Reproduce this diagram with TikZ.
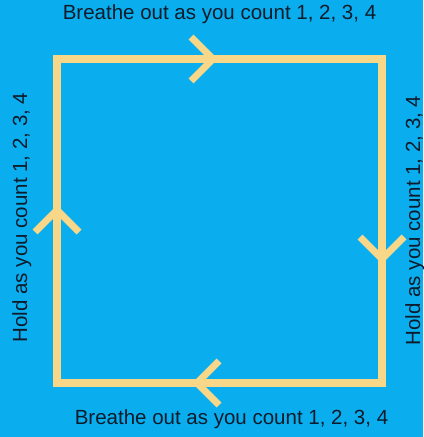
\documentclass[tikz,border=0pt]{standalone}
\usepackage{fontspec}
\setmainfont{Liberation Sans}
\definecolor{bgblue}{HTML}{0AAEEF}
\definecolor{boxyellow}{HTML}{F8D888}
\definecolor{inkdark}{HTML}{0D1B2A}
\begin{document}
\begin{tikzpicture}[x=1bp,y=-1bp,
  edge/.style={draw=boxyellow,line width=8bp,miter limit=10},
  chev/.style={draw=boxyellow,line width=7bp,line join=miter,miter limit=10},
  lab/.style={inner sep=0pt,text=inkdark,font=\fontsize{20.5bp}{24bp}\selectfont}]
\fill[bgblue] (0,0) rectangle (423,437);
\useasboundingbox (0,0) rectangle (423,437);
\coordinate (tl) at (57,59);
\coordinate (tr) at (382,59);
\coordinate (br) at (382,383);
\coordinate (bl) at (57,383);
\draw[edge] (tl) -- (tr) -- (br) -- (bl) -- cycle;
% chevrons
\coordinate (ct) at (213,59);
\draw[chev] ([shift={(-22,-22)}]ct) -- (ct) -- ([shift={(-22,22)}]ct);
\coordinate (cr) at (382,259);
\draw[chev] ([shift={(-22,-22)}]cr) -- (cr) -- ([shift={(22,-22)}]cr);
\coordinate (cb) at (197,383);
\draw[chev] ([shift={(22,-22)}]cb) -- (cb) -- ([shift={(22,22)}]cb);
\coordinate (cl) at (57,210);
\draw[chev] ([shift={(-22,22)}]cl) -- (cl) -- ([shift={(22,22)}]cl);
% labels
\node[lab,anchor=base] (top) at (219.5,20) {Breathe out as you count 1, 2, 3, 4};
\node[lab,anchor=base] (bot) at (231.5,424) {Breathe out as you count 1, 2, 3, 4};
\node[lab,anchor=base,rotate=90] (left) at (27,217.5) {Hold as you count 1, 2, 3, 4};
\node[lab,anchor=base,rotate=90] (right) at (420,220.5) {Hold as you count 1, 2, 3, 4};
\end{tikzpicture}
\end{document}
